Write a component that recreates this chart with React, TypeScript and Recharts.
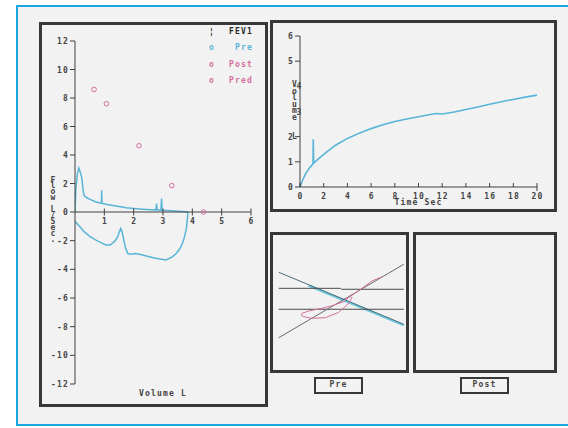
import { ComposedChart, Legend, Line, Scatter, XAxis, YAxis } from "recharts";

const INK = "#404040";
const BOX = "#383838";
const PRE_BLUE = "#58b5d8";
const PINK = "#d46f9e";
const PAPER = "#f2f2f2";
const FRAME = "#1ba4e2";
const MONO = '"DejaVu Sans Mono", "Liberation Mono", monospace';

// flow-volume loop (volume L, flow L/sec)
const expiration = [
  { v: 0, f: 0 }, { v: 0.03, f: 1.6 }, { v: 0.08, f: 2.7 }, { v: 0.13, f: 3.08 },
  { v: 0.17, f: 2.85 }, { v: 0.21, f: 2.6 }, { v: 0.24, f: 2.3 }, { v: 0.27, f: 1.6 },
  { v: 0.31, f: 1.15 }, { v: 0.4, f: 1.0 }, { v: 0.55, f: 0.85 }, { v: 0.7, f: 0.72 },
  { v: 0.86, f: 0.63 }, { v: 0.9, f: 0.62 }, { v: 0.91, f: 1.52 }, { v: 0.92, f: 0.6 },
  { v: 1.1, f: 0.52 }, { v: 1.3, f: 0.45 }, { v: 1.5, f: 0.38 }, { v: 1.75, f: 0.3 },
  { v: 2.0, f: 0.25 }, { v: 2.3, f: 0.2 }, { v: 2.6, f: 0.16 }, { v: 2.76, f: 0.15 },
  { v: 2.78, f: 0.6 }, { v: 2.8, f: 0.15 }, { v: 2.93, f: 0.13 }, { v: 2.95, f: 0.95 },
  { v: 2.97, f: 0.13 }, { v: 3.2, f: 0.1 }, { v: 3.5, f: 0.06 }, { v: 3.7, f: 0.04 },
  { v: 3.85, f: 0 },
];

const inspiration = [
  { v: 3.85, f: 0 }, { v: 3.83, f: -0.5 }, { v: 3.8, f: -1.1 }, { v: 3.75, f: -1.6 },
  { v: 3.68, f: -2.1 }, { v: 3.58, f: -2.55 }, { v: 3.45, f: -2.9 }, { v: 3.3, f: -3.15 },
  { v: 3.1, f: -3.35 }, { v: 2.95, f: -3.3 }, { v: 2.8, f: -3.25 }, { v: 2.6, f: -3.15 },
  { v: 2.4, f: -3.05 }, { v: 2.2, f: -2.95 }, { v: 2.05, f: -2.9 }, { v: 1.9, f: -2.95 },
  { v: 1.8, f: -2.9 }, { v: 1.72, f: -2.5 }, { v: 1.66, f: -1.9 }, { v: 1.6, f: -1.35 },
  { v: 1.56, f: -1.15 }, { v: 1.52, f: -1.35 }, { v: 1.45, f: -1.75 }, { v: 1.35, f: -2.05 },
  { v: 1.2, f: -2.3 }, { v: 1.05, f: -2.3 }, { v: 0.9, f: -2.15 }, { v: 0.7, f: -1.95 },
  { v: 0.5, f: -1.7 }, { v: 0.3, f: -1.35 }, { v: 0.15, f: -1.0 }, { v: 0, f: -0.65 },
];

const predicted = [
  { v: 0.65, f: 8.6 }, { v: 1.07, f: 7.6 }, { v: 2.18, f: 4.65 },
  { v: 3.3, f: 1.85 }, { v: 4.38, f: 0 },
];

// volume-time (sec, L)
const volumeTime = [
  { t: 0, v: 0 }, { t: 0.2, v: 0.25 }, { t: 0.5, v: 0.55 }, { t: 0.8, v: 0.76 },
  { t: 1.1, v: 0.92 }, { t: 1.12, v: 1.9 }, { t: 1.15, v: 0.95 }, { t: 1.5, v: 1.1 },
  { t: 2, v: 1.3 }, { t: 3, v: 1.66 }, { t: 4, v: 1.93 }, { t: 5, v: 2.14 },
  { t: 6, v: 2.32 }, { t: 7, v: 2.47 }, { t: 8, v: 2.6 }, { t: 9, v: 2.7 },
  { t: 10, v: 2.79 }, { t: 11, v: 2.88 }, { t: 11.5, v: 2.92 }, { t: 12, v: 2.9 },
  { t: 13, v: 2.98 }, { t: 14, v: 3.08 }, { t: 15, v: 3.18 }, { t: 16, v: 3.29 },
  { t: 17, v: 3.39 }, { t: 18, v: 3.48 }, { t: 19, v: 3.57 }, { t: 20, v: 3.65 },
];

const flowTicksUp = [0, 2, 4, 6, 8, 10, 12];
const flowTicksDown = [-2, -4, -6, -8, -10, -12];
const volumeTicks = [1, 2, 3, 4, 5, 6];
const litreTicks = [0, 1, 2, 3, 4, 5, 6];
const secondTicks = [0, 2, 4, 6, 8, 10, 12, 14, 16, 18, 20];

const legendItems = [
  { mark: "¦", label: "FEV1", color: "#2a2a2a" },
  { mark: "o", label: "Pre", color: PRE_BLUE },
  { mark: "o", label: "Post", color: PINK },
  { mark: "o", label: "Pred", color: PINK },
];

// "Pre" small panel traces, unitless 0-10 box
const trendDown = [{ x: 0.43, y: 7.24 }, { x: 9.83, y: 3.39 }];
const trendDownTint = [{ x: 2.68, y: 6.25 }, { x: 9.83, y: 3.32 }];
const levelUpper = [{ x: 0.43, y: 6.05 }, { x: 5.06, y: 6.05 }, { x: 5.14, y: 5.98 }, { x: 9.83, y: 5.98 }];
const levelLower = [{ x: 0.43, y: 4.5 }, { x: 9.83, y: 4.5 }];
const trendUp = [{ x: 0.43, y: 2.39 }, { x: 9.83, y: 7.83 }];
const preLoop = [
  { x: 8.2, y: 6.91 }, { x: 7.44, y: 6.59 }, { x: 6.69, y: 6.05 }, { x: 5.69, y: 5.36 },
  { x: 5.32, y: 5.06 }, { x: 4.44, y: 4.76 }, { x: 3.68, y: 4.57 }, { x: 2.68, y: 4.37 },
  { x: 2.18, y: 4.2 }, { x: 2.14, y: 4.04 }, { x: 2.31, y: 3.95 }, { x: 2.93, y: 3.83 },
  { x: 3.93, y: 3.87 }, { x: 4.94, y: 4.27 }, { x: 5.56, y: 4.81 }, { x: 5.81, y: 5.11 },
  { x: 5.94, y: 5.41 },
];

const txt = { fontFamily: MONO, fontSize: 8, fontWeight: 700, fill: "#444", letterSpacing: 1.2 };

function Stacked({ x, y, text, step }: { x: number; y: number; text: string; step: number }) {
  return (
    <text {...txt} letterSpacing={0} textAnchor="middle">
      {text.split("").map((ch, i) => (
        <tspan key={i} x={x} y={y + i * step}>{ch}</tspan>
      ))}
    </text>
  );
}

const FlowYTick = ({ x, y, payload }: any) => (
  <g>
    <line x1={x - 5} x2={x} y1={y} y2={y} stroke={INK} />
    <text {...txt} x={x - 6} y={y + 3} textAnchor="end">{payload.value}</text>
  </g>
);

const FlowXTick = ({ x, y, payload }: any) => (
  <g>
    <line x1={x} x2={x} y1={y - 3.5} y2={y + 3.5} stroke={INK} />
    <text {...txt} x={x + 0.6} y={y + 11.5} textAnchor="middle">{payload.value}</text>
  </g>
);

const LitreTick = ({ x, y, payload }: any) => {
  // the 3 and 4 labels are printed beside the stacked axis title
  const shifted = payload.value === 3 || payload.value === 4;
  return (
    <g>
      {!shifted && <line x1={x - 5} x2={x} y1={y} y2={y} stroke={INK} />}
      <text {...txt} x={shifted ? x + 2.5 : x - 6} y={y + 3} textAnchor="end">{payload.value}</text>
    </g>
  );
};

const SecondTick = ({ x, y, payload }: any) => (
  <g>
    <line x1={x} x2={x} y1={y - 4} y2={payload.value === 20 ? y + 4 : y} stroke={INK} />
    <text {...txt} x={x + 0.6} y={y + 11.5} textAnchor="middle">{payload.value}</text>
  </g>
);

const PredDot = (p: any) => (
  <circle cx={p.cx} cy={p.cy} r={2.3} fill="none" stroke={PINK} strokeWidth={1} />
);

const renderLegend = () => (
  <div style={{ fontFamily: MONO, fontSize: 8, fontWeight: 700, letterSpacing: 1.2 }}>
    {legendItems.map((it) => (
      <div key={it.label} style={{ display: "flex", height: 16.5, alignItems: "center", color: it.color }}>
        <span style={{ width: 14, textAlign: "center" }}>{it.mark}</span>
        <span style={{ width: 34, textAlign: "right" }}>{it.label}</span>
      </div>
    ))}
  </div>
);

const box = (left: number, top: number, width: number, height: number, border = 3) => (
  <div
    style={{
      position: "absolute", left, top, width, height, boxSizing: "border-box",
      border: `${border}px solid ${BOX}`,
    }}
  />
);

const tag = (left: number, label: string) => (
  <div
    style={{
      position: "absolute", left, top: 377, width: 49, height: 17, boxSizing: "border-box",
      border: `2.5px solid ${BOX}`, fontFamily: MONO, fontSize: 8, fontWeight: 700,
      letterSpacing: 1.2, color: "#444", textAlign: "center", lineHeight: "12px",
    }}
  >
    {label}
  </div>
);

const line = (stroke: number) => ({ dot: false, isAnimationActive: false, strokeWidth: stroke, type: "linear" as const });

export default function App() {
  return (
    <div style={{ position: "absolute", left: 0, top: 0, width: 568, height: 428, background: "#fff", overflow: "hidden" }}>
      <div
        style={{
          position: "absolute", left: 16, top: 5, width: 560, height: 421, boxSizing: "border-box",
          border: `2px solid ${FRAME}`, borderRight: "none", background: PAPER,
        }}
      />
      {box(39, 22, 229, 385)}
      {box(270, 20, 287, 192)}
      {box(270, 232, 139, 141)}
      {box(413, 232, 144, 141)}
      {tag(314, "Pre")}
      {tag(460, "Post")}

      {/* flow-volume, inspiratory half */}
      <div style={{ position: "absolute", left: 40, top: 212 }}>
        <ComposedChart width={220} height={189} margin={{ top: 0, right: 9, bottom: 5, left: 10 }}>
          <XAxis
            type="number" dataKey="v" domain={[0, 6]} allowDataOverflow height={12}
            axisLine={false} tickLine={false} tick={false}
            label={{ value: "Volume L", position: "insideBottom", offset: 0, style: txt }}
          />
          <YAxis
            type="number" dataKey="f" domain={[-12, 0]} allowDataOverflow ticks={flowTicksDown} interval={0}
            width={25} tickSize={0} tickMargin={0} tickLine={false} axisLine={{ stroke: INK }} tick={FlowYTick}
          />
          <Line data={inspiration} dataKey="f" stroke={PRE_BLUE} {...line(1.5)} />
        </ComposedChart>
      </div>

      {/* flow-volume, expiratory half with axis */}
      <div style={{ position: "absolute", left: 40, top: 22 }}>
        <ComposedChart width={220} height={230} margin={{ top: 19, right: 9, bottom: 20, left: 10 }}>
          <XAxis
            type="number" dataKey="v" domain={[0, 6]} allowDataOverflow ticks={volumeTicks} interval={0}
            height={20} tickSize={0} tickMargin={0} tickLine={false} axisLine={{ stroke: INK }} tick={FlowXTick}
          />
          <YAxis
            type="number" dataKey="f" domain={[0, 12]} ticks={flowTicksUp} interval={0}
            width={25} tickSize={0} tickMargin={0} tickLine={false} axisLine={{ stroke: INK }} tick={FlowYTick}
            label={{ content: () => <Stacked x={13} y={160.5} text="Flow L/Sec." step={5.9} /> }}
          />
          <Line data={expiration} dataKey="f" stroke={PRE_BLUE} {...line(1.5)} />
          <Scatter data={predicted} dataKey="f" shape={PredDot} isAnimationActive={false} />
          <Legend
            layout="vertical" align="center" verticalAlign="middle" content={renderLegend}
            wrapperStyle={{ left: 165, top: 1, width: 48, height: 66 }}
          />
        </ComposedChart>
      </div>

      {/* volume-time */}
      <div style={{ position: "absolute", left: 272, top: 22 }}>
        <ComposedChart width={279} height={184} margin={{ top: 14, right: 14, bottom: 0, left: 8 }}>
          <XAxis
            type="number" dataKey="t" domain={[0, 20]} ticks={secondTicks} interval={0}
            height={19} tickSize={0} tickMargin={0} tickLine={false} axisLine={{ stroke: INK }} tick={SecondTick}
            label={{ value: "Time Sec", position: "insideBottom", offset: 1, style: txt }}
          />
          <YAxis
            type="number" dataKey="v" domain={[0, 6]} ticks={litreTicks} interval={0}
            width={20} tickSize={0} tickMargin={0} tickLine={false} axisLine={{ stroke: INK }} tick={LitreTick}
            label={{ content: () => <Stacked x={22.5} y={65} text="Volume  L" step={6.5} /> }}
          />
          <Line data={volumeTime} dataKey="v" stroke={PRE_BLUE} {...line(1.6)} />
        </ComposedChart>
      </div>

      {/* Pre panel */}
      <div style={{ position: "absolute", left: 273, top: 235 }}>
        <ComposedChart width={133} height={135} margin={{ top: 0, right: 0, bottom: 0, left: 0 }}>
          <XAxis type="number" dataKey="x" domain={[0, 10]} hide />
          <YAxis type="number" dataKey="y" domain={[0, 10]} hide />
          <Line data={trendDownTint} dataKey="y" stroke="#6cc6dc" {...line(2.2)} />
          <Line data={trendDown} dataKey="y" stroke="#4f6e78" {...line(1)} />
          <Line data={levelUpper} dataKey="y" stroke="#4a4a4a" {...line(1)} />
          <Line data={levelLower} dataKey="y" stroke="#4a4a4a" {...line(1)} />
          <Line data={trendUp} dataKey="y" stroke="#6a6a6a" {...line(1)} />
          <Line data={preLoop} dataKey="y" stroke={PINK} {...line(1)} />
        </ComposedChart>
      </div>
    </div>
  );
}
